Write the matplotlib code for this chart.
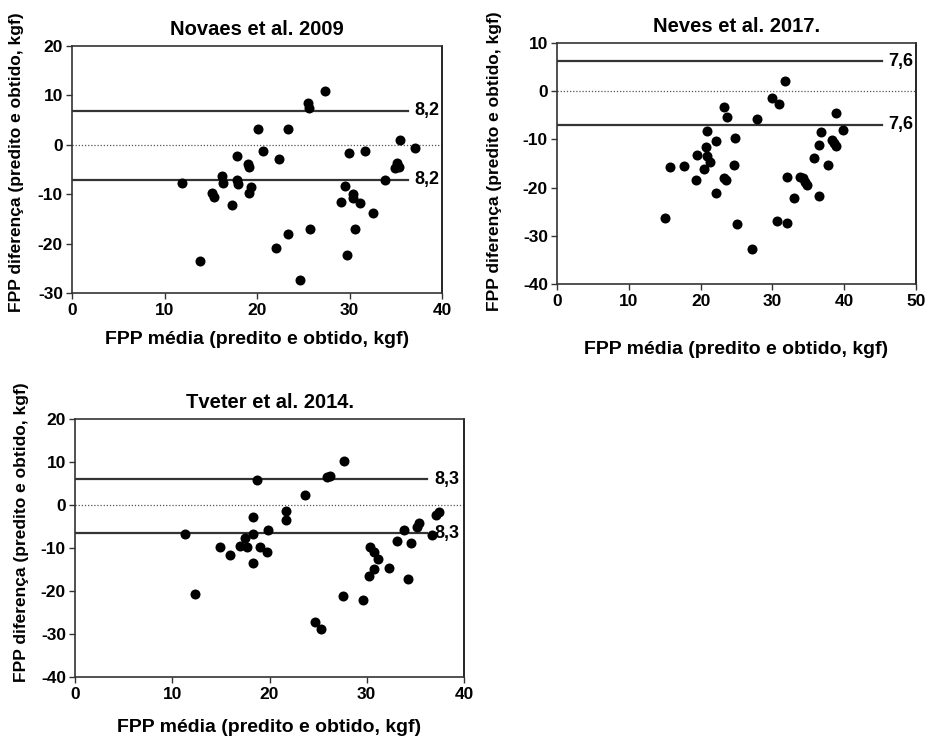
import matplotlib
matplotlib.use("Agg")
import matplotlib.pyplot as plt

plt.rcParams['font.family'] = ['Liberation Sans', 'DejaVu Sans']
plt.rcParams['font.weight'] = 'bold'
plt.rcParams['axes.unicode_minus'] = False

# ---------------- data ----------------
novaes_title = "Novaes et al. 2009"
novaes_x = [11.9, 13.85, 15.1, 15.4, 16.2, 16.3, 17.3, 17.8, 17.8, 17.9, 19.0, 19.1, 19.1, 19.3,
            20.1, 20.6, 22.05, 22.4, 23.3, 23.4, 24.6, 25.5, 25.6, 25.7, 27.4, 29.1, 29.5, 29.7,
            29.9, 30.4, 30.4, 30.6, 31.1, 31.65, 32.55, 33.85, 34.9, 35.1, 35.4, 35.5, 37.1]
novaes_y = [-7.8, -23.5, -9.8, -10.6, -6.3, -7.8, -12.2, -2.2, -7.1, -7.9, -3.9, -4.4, -9.8, -8.6,
            3.2, -1.35, -20.8, -2.8, -18.0, 3.1, -27.4, 8.4, 7.4, -17.0, 10.9, -11.5, -8.3, -22.4,
            -1.7, -10.0, -10.8, -17.0, -11.8, -1.2, -13.85, -7.1, -4.6, -3.7, -4.4, 1.0, -0.7]
novaes_limits = [6.9, -7.1]
novaes_limit_labels = ["8,2", "8,2"]
novaes_limit_xend = 36.3
novaes_xticks = [0, 10, 20, 30, 40]
novaes_yticks = [-30, -20, -10, 0, 10, 20]

neves_title = "Neves et al. 2017."
neves_x = [15.1, 15.8, 17.7, 19.3, 19.5, 20.45, 20.9, 20.7, 20.95, 21.3, 22.2, 22.2, 23.2, 23.3,
           23.6, 23.65, 24.8, 24.6, 25.0, 27.1, 27.8, 30.0, 30.6, 30.9, 31.7, 32.1, 32.1, 33.0,
           33.8, 34.3, 34.55, 34.8, 35.85, 36.5, 36.55, 36.8, 37.8, 38.3, 38.6, 38.8, 38.9, 39.9]
neves_y = [-26.4, -15.7, -15.5, -18.5, -13.25, -16.2, -8.2, -11.6, -13.5, -14.6, -10.4, -21.1, -18.1, -3.35,
           -18.4, -5.4, -9.8, -15.4, -27.5, -32.7, -5.8, -1.4, -27.0, -2.7, 2.1, -17.8, -27.4, -22.2,
           -17.85, -18.1, -18.8, -19.5, -13.8, -21.8, -11.2, -8.4, -15.3, -10.1, -10.7, -11.3, -4.5, -8.0]
neves_limits = [6.2, -7.0]
neves_limit_labels = ["7,6", "7,6"]
neves_limit_xend = 45.2
neves_xticks = [0, 10, 20, 30, 40, 50]
neves_yticks = [-40, -30, -20, -10, 0, 10]

tveter_title = "Tveter et al. 2014."
tveter_x = [11.35, 12.35, 14.9, 15.9, 17.0, 17.5, 17.7, 18.3, 18.35, 18.3, 18.75, 19.0, 19.75, 19.8,
            21.7, 21.7, 23.7, 24.7, 25.3, 25.9, 26.2, 27.7, 27.6, 29.6, 30.25, 30.3, 30.7, 30.7,
            31.2, 32.3, 33.1, 33.85, 34.2, 34.5, 35.15, 35.4, 36.7, 37.1, 37.4]
tveter_y = [-6.65, -20.7, -9.8, -11.6, -9.45, -7.6, -9.7, -6.8, -13.5, -2.9, 5.7, -9.7, -10.9, -5.9,
            -1.3, -3.5, 2.3, -27.1, -28.9, 6.6, 6.8, 10.2, -21.2, -22.2, -16.5, -9.8, -10.9, -14.9,
            -12.6, -14.6, -8.3, -5.7, -17.2, -8.8, -5.2, -4.3, -6.95, -2.3, -1.55]
tveter_limits = [6.0, -6.6]
tveter_limit_labels = ["8,3", "8,3"]
tveter_limit_xend = 36.2
tveter_xticks = [0, 10, 20, 30, 40]
tveter_yticks = [-40, -30, -20, -10, 0, 10, 20]

xlabel = "FPP média (predito e obtido, kgf)"
ylabel = "FPP diferença (predito e obtido, kgf)"

# ---------------- figure ----------------
fig = plt.figure(figsize=(9.26, 7.36), dpi=100)

W, H = 926.0, 736.0
def rect(l, t, r, b):
    return [l / W, 1 - b / H, (r - l) / W, (b - t) / H]

panels = [
    dict(rect=rect(72, 46, 442, 293), title=novaes_title, x=novaes_x, y=novaes_y,
         limits=novaes_limits, labels=novaes_limit_labels, xend=novaes_limit_xend,
         xticks=novaes_xticks, yticks=novaes_yticks, xlab=(0.5, -0.19), ylab=(-0.15, 0.53)),
    dict(rect=rect(557, 43, 916, 284), title=neves_title, x=neves_x, y=neves_y,
         limits=neves_limits, labels=neves_limit_labels, xend=neves_limit_xend,
         xticks=neves_xticks, yticks=neves_yticks, xlab=(0.5, -0.27), ylab=(-0.173, 0.51)),
    dict(rect=rect(75, 419, 464, 677), title=tveter_title, x=tveter_x, y=tveter_y,
         limits=tveter_limits, labels=tveter_limit_labels, xend=tveter_limit_xend,
         xticks=tveter_xticks, yticks=tveter_yticks, xlab=(0.5, -0.194), ylab=(-0.137, 0.56)),
]

for p in panels:
    ax = fig.add_axes(p['rect'])
    xt, yt = p['xticks'], p['yticks']
    ax.set_xlim(xt[0], xt[-1])
    ax.set_ylim(yt[0], yt[-1])
    ax.set_xticks(xt, [str(v) for v in xt], fontweight='bold')
    ax.set_yticks(yt, [str(v) for v in yt], fontweight='bold')
    ax.tick_params(direction='out', length=4.5, width=1.0, labelsize=12.5, pad=3,
                   top=False, right=False, color='#333333')
    ax.tick_params(axis='y', pad=2)
    for side, sp in ax.spines.items():
        sp.set_linewidth(1.2)
        sp.set_color('#333333')
    ax.spines['right'].set_color('black')

    # zero line
    ax.axhline(0, color='#555555', lw=0.9, ls=(0, (1, 1.5)), zorder=1)
    # limit lines
    for val, lab in zip(p['limits'], p['labels']):
        ax.plot([xt[0], p['xend']], [val, val], color='#333333', lw=1.6, zorder=2)
        ax.annotate(lab, xy=(p['xend'], val), xytext=(5, 0), textcoords='offset points',
                    ha='left', va='center', fontsize=13, fontweight='bold')
    ax.scatter(p['x'], p['y'], s=52, color='black', zorder=3, clip_on=False, linewidths=0)

    ax.set_title(p['title'], fontsize=14.5, fontweight='bold', pad=8)
    ax.set_xlabel(xlabel, fontsize=14, fontweight='bold')
    ax.set_ylabel(ylabel, fontsize=12.5, fontweight='bold')
    ax.xaxis.set_label_coords(*p['xlab'])
    ax.yaxis.set_label_coords(*p['ylab'])
    ax.xaxis.label.set_va('center')
    ax.yaxis.label.set_va('center')

fig.savefig("out.png", dpi=100)
